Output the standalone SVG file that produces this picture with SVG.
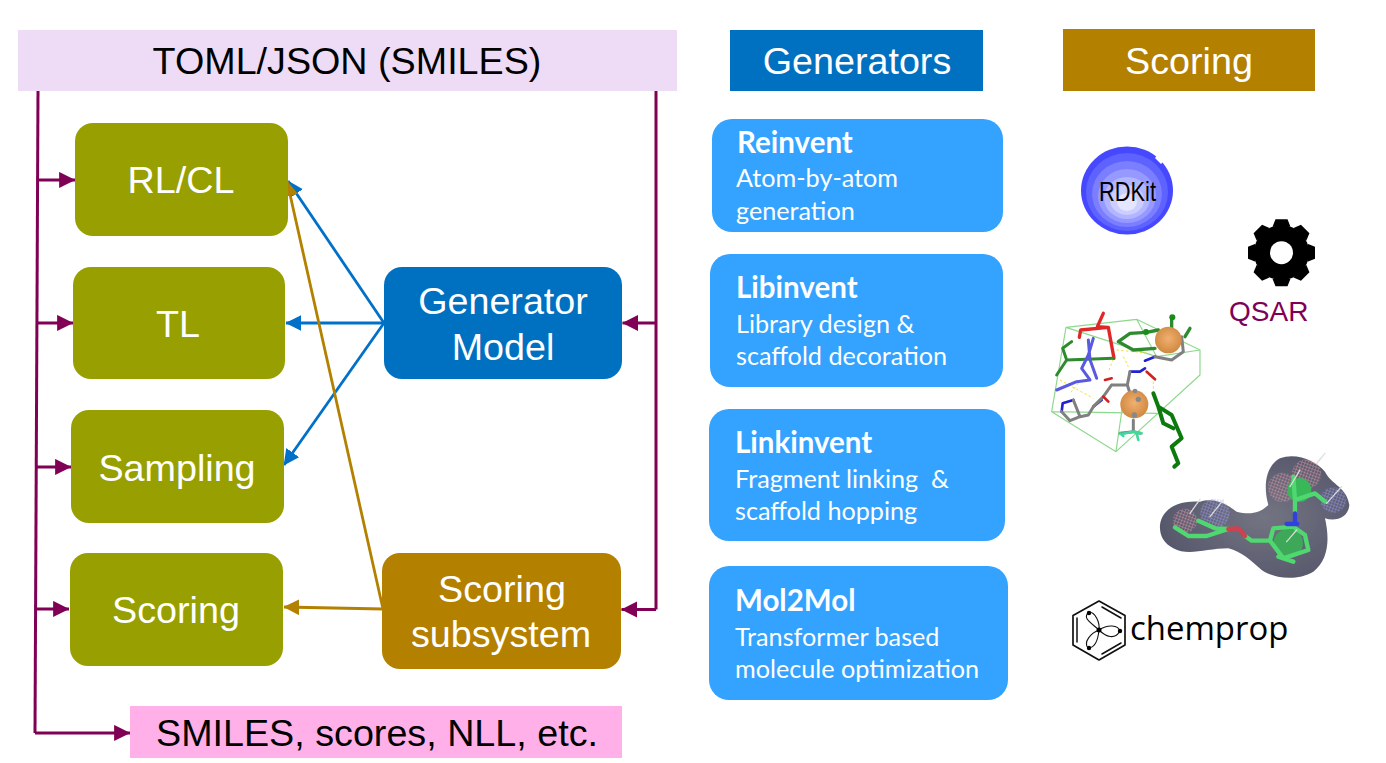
<svg xmlns="http://www.w3.org/2000/svg" width="1386" height="763" viewBox="0 0 1386 763">
<style>
.h{font-family:"Liberation Sans",Arial,sans-serif;font-size:37.700px;text-anchor:middle}
.w{fill:#fff}
.k{fill:#000}
.ol{fill:#97a000}
.gen{fill:#0070c0}
.sc{fill:#b38000}
.card{fill:#33a3ff}
.ct{font-family:Lato,"Open Sans",sans-serif;font-size:25.200px;fill:#fff}
.cb{font-weight:700;font-size:29.500px}
.p{fill:none;stroke:#800055;stroke-width:3}
.b{fill:none;stroke:#0070c8;stroke-width:2.800}
.g{fill:none;stroke:#b38000;stroke-width:2.800}
.st{fill:none;stroke-linecap:round;stroke-linejoin:round}
.hb{stroke:#e8e040;stroke-width:3;stroke-dasharray:7 7;fill:none}
</style>
<defs>
<marker id="ap" markerWidth="6" markerHeight="6" refX="5.300" refY="2.700" orient="auto" markerUnits="strokeWidth"><path d="M0 0L5.400 2.700L0 5.400z" fill="#800055"/></marker>
<marker id="ab" markerWidth="6" markerHeight="6" refX="5.400" refY="2.800" orient="auto" markerUnits="strokeWidth"><path d="M0 0L5.600 2.800L0 5.600z" fill="#0070c8"/></marker>
<marker id="ag" markerWidth="6" markerHeight="6" refX="5.400" refY="2.800" orient="auto" markerUnits="strokeWidth"><path d="M0 0L5.600 2.800L0 5.600z" fill="#b38000"/></marker>
<radialGradient id="sf" cx=".55" cy=".5" r=".6"><stop offset="0" stop-color="#737482"/><stop offset="1" stop-color="#55566a"/></radialGradient>
<radialGradient id="ball" cx=".5" cy=".45" r=".55"><stop offset="0" stop-color="#f0b070"/><stop offset="1" stop-color="#d08840"/></radialGradient>
<pattern id="mr" width="9" height="9" patternUnits="userSpaceOnUse" patternTransform="rotate(20)"><path d="M0 0H9M0 0V9" stroke="#e49aaa" stroke-width="2.400"/></pattern>
<pattern id="mb" width="9" height="9" patternUnits="userSpaceOnUse" patternTransform="rotate(20)"><path d="M0 0H9M0 0V9" stroke="#9a9af4" stroke-width="2.400"/></pattern>
<path id="tooth" d="M-9 -26L-6 -33.500H6L9 -26Z" fill="#000"/>
<filter id="soft" x="-5%" y="-5%" width="110%" height="110%"><feGaussianBlur stdDeviation="1.200"/></filter>
</defs>

<g id="connectors">
<path class="p" d="M38 91L35 733"/>
<path class="p" d="M656 91V609.500"/>
<path class="p" d="M38 180H75" marker-end="url(#ap)"/>
<path class="p" d="M37 323H73" marker-end="url(#ap)"/>
<path class="p" d="M36 467H71" marker-end="url(#ap)"/>
<path class="p" d="M35 609H69" marker-end="url(#ap)"/>
<path class="p" d="M35 733H130" marker-end="url(#ap)"/>
<path class="p" d="M656 323H622.500" marker-end="url(#ap)"/>
<path class="p" d="M656 609.500H621.500" marker-end="url(#ap)"/>
<path class="b" d="M384 323L288 181" marker-end="url(#ab)"/>
<path class="b" d="M384 323H286" marker-end="url(#ab)"/>
<path class="b" d="M384 323L284 465" marker-end="url(#ab)"/>
<path class="g" d="M383 609L287 181" marker-end="url(#ag)"/>
<path class="g" d="M383 609L284 607" marker-end="url(#ag)"/>
</g>

<g id="input"><rect x="18" y="30" width="659" height="61" fill="#eedcf6"/><text class="h k" x="347" y="74">TOML/JSON (SMILES)</text></g>
<g id="generators-header"><rect x="730" y="30" width="253" height="61" class="gen"/><text class="h w" x="857" y="74">Generators</text></g>
<g id="scoring-header"><rect x="1063" y="29" width="252" height="62" class="sc"/><text class="h w" x="1189" y="74">Scoring</text></g>

<g id="rlcl"><rect x="75" y="123" width="213" height="113" rx="18" class="ol"/><text class="h w" x="181" y="193">RL/CL</text></g>
<g id="tl"><rect x="73" y="267" width="212" height="112" rx="18" class="ol"/><text class="h w" x="178" y="337">TL</text></g>
<g id="sampling"><rect x="71" y="410" width="213" height="113" rx="18" class="ol"/><text class="h w" x="177" y="481">Sampling</text></g>
<g id="scoring"><rect x="70" y="553" width="213" height="113" rx="18" class="ol"/><text class="h w" x="176" y="623">Scoring</text></g>
<g id="generator-model"><rect x="384" y="267" width="238" height="112" rx="18" class="gen"/><text class="h w" x="503" y="314">Generator</text><text class="h w" x="503" y="360">Model</text></g>
<g id="scoring-subsystem"><rect x="382" y="553" width="239" height="116" rx="18" class="sc"/><text class="h w" x="502" y="602">Scoring</text><text class="h w" x="501" y="647">subsystem</text></g>
<g id="output"><rect x="130" y="706" width="492" height="52" fill="#ffb0e8"/><text class="h k" x="377" y="746">SMILES, scores, NLL, etc.</text></g>

<g id="reinvent"><rect x="712" y="119" width="291" height="113" rx="20" class="card"/><text class="ct cb" x="737" y="153">Reinvent</text><text class="ct" x="736" y="187">Atom-by-atom</text><text class="ct" x="736" y="220">generation</text></g>
<g id="libinvent"><rect x="710" y="254" width="293" height="133" rx="20" class="card"/><text class="ct cb" x="736" y="298">Libinvent</text><text class="ct" x="736" y="333">Library design &amp;</text><text class="ct" x="736" y="365">scaffold decoration</text></g>
<g id="linkinvent"><rect x="709" y="409" width="296" height="132" rx="20" class="card"/><text class="ct cb" x="735" y="453">Linkinvent</text><text class="ct" x="735" y="488" xml:space="preserve">Fragment linking  &amp;</text><text class="ct" x="735" y="520">scaffold hopping</text></g>
<g id="mol2mol"><rect x="709" y="566" width="299" height="134" rx="20" class="card"/><text class="ct cb" x="735" y="611">Mol2Mol</text><text class="ct" x="735" y="646">Transformer based</text><text class="ct" x="735" y="678">molecule optimization</text></g>

<g id="rdkit">
<ellipse cx="1127" cy="190.500" rx="46" ry="44" fill="#4648ff"/>
<ellipse cx="1127" cy="192" rx="41" ry="39" fill="#5e62ff"/>
<ellipse cx="1127" cy="194" rx="35" ry="33" fill="#7a7eff"/>
<ellipse cx="1127" cy="196" rx="29" ry="27" fill="#9699ff"/>
<ellipse cx="1127" cy="198" rx="23" ry="21" fill="#b2b5ff"/>
<ellipse cx="1127" cy="200" rx="17" ry="15" fill="#ccceff"/>
<ellipse cx="1127" cy="202" rx="10" ry="9" fill="#e4e5ff"/>
<path d="M1158 154l6 7-3 3-6-6z" fill="#fff"/>
<text x="1127.500" y="201" text-anchor="middle" font-family="'Liberation Sans Narrow','Liberation Sans',sans-serif" font-size="28" textLength="57" lengthAdjust="spacingAndGlyphs" fill="#000">RDKit</text>
</g>

<g id="qsar">
<g transform="translate(1281.500 252.700)">
<circle r="27.500" fill="#000"/>
<use href="#tooth"/><use href="#tooth" transform="rotate(45)"/><use href="#tooth" transform="rotate(90)"/><use href="#tooth" transform="rotate(135)"/><use href="#tooth" transform="rotate(180)"/><use href="#tooth" transform="rotate(225)"/><use href="#tooth" transform="rotate(270)"/><use href="#tooth" transform="rotate(315)"/>
<circle r="11.500" fill="#fff"/>
</g>
<text x="1229" y="321" font-family="'Liberation Sans',sans-serif" font-size="28" fill="#800055">QSAR</text>
</g>

<g id="docking" transform="translate(1040 300) scale(.3333)">
<g filter="url(#soft)">
<path class="st" stroke="#8ed88e" stroke-width="3.500" d="M78 82L290 58L480 150L350 170L78 82L35 335L228 455L480 225L480 150M35 335L350 340M228 455L250 300M290 58L350 170"/>
<path class="hb" d="M60 240L160 295M115 250L90 280M230 150L330 160M225 165L205 215M250 170L265 200M340 245V285"/>
<path class="st" stroke="#e02828" stroke-width="10" d="M190 40L172 80L205 82L122 90L118 112M205 82L222 175"/>
<path class="st" stroke="#2f8a2f" stroke-width="10" d="M395 50V90M320 97L270 100L235 125L280 150L345 145M320 97L355 90M450 85L435 110"/>
<path class="st" stroke="#2f8a2f" stroke-width="9" d="M95 125L68 145L80 180L50 225M80 180L220 175"/>
<path class="st" stroke="#5a5ae0" stroke-width="9" d="M160 115L145 165L170 235M145 165L125 205L150 240L110 245L50 270M145 120L150 180"/>
<path class="st" stroke="#0f7a0f" stroke-width="12" d="M340 280L355 320L395 345L425 415L395 440L415 490L403 500M355 320L370 370L400 385"/>
<path class="st" stroke="#2020d0" stroke-width="8" d="M100 300L68 310L65 335M345 170L315 182M270 215L300 215L315 205M185 300L160 320"/>
<path class="st" stroke="#808080" stroke-width="9" d="M65 335L90 362L120 350L145 345L160 320M100 300L120 350M345 170L395 180L430 155L425 110M215 255L262 255L270 215M215 255L190 290L160 320M262 255L270 280M280 360V395M240 400L280 395L300 400"/>
<path class="st" stroke="#d02020" stroke-width="8" d="M215 235L195 240M320 215L345 238M190 290L205 305"/>
<path class="st" stroke="#40d8a0" stroke-width="8" d="M280 395L245 402M280 395L305 400M290 400L295 420M240 400L250 408"/>
<circle cx="385" cy="120" r="40" fill="url(#ball)"/><circle cx="283" cy="313" r="42" fill="url(#ball)"/>
<circle cx="285" cy="273" r="7" fill="#888"/><circle cx="295" cy="298" r="8" fill="#888"/><circle cx="283" cy="345" r="8" fill="#888"/><circle cx="318" cy="96" r="9" fill="#1a8a1a"/><circle cx="397" cy="52" r="9" fill="#1a8a1a"/>
</g>
</g>

<g id="pharmacophore" transform="translate(1060 450) scale(.3333)">
<g filter="url(#soft)">
<path fill="url(#sf)" d="M300 225C305 180 350 150 420 155C470 140 510 170 530 185C570 195 600 190 625 165C610 110 615 50 660 25C710 5 770 35 795 65C815 105 860 110 868 165C865 205 825 215 795 205C810 270 805 330 760 365C710 395 640 385 605 360C570 330 545 305 505 295C440 295 385 320 340 295C310 280 298 255 300 225Z"/>
<circle cx="375" cy="212" r="36" fill="url(#mr)"/><circle cx="465" cy="190" r="44" fill="url(#mb)"/><circle cx="668" cy="112" r="44" fill="url(#mr)"/><circle cx="740" cy="72" r="44" fill="url(#mr)"/><circle cx="820" cy="150" r="38" fill="url(#mb)"/>
<circle cx="718" cy="120" r="36" fill="#38b858"/><circle cx="685" cy="280" r="44" fill="#3ca858"/>
<path class="st" stroke="#50d870" stroke-width="13" d="M345 232L385 258L440 258L505 237M415 212L465 235L505 237M555 258L575 272L630 272L670 325L745 300L735 255L700 230L640 235L630 272M655 320L700 335M705 190V150L765 130L795 155M705 150L700 80"/>
<path class="st" stroke="#d04050" stroke-width="13" d="M505 237L535 235L555 258"/>
<path class="st" stroke="#3040e0" stroke-width="13" d="M705 190V215M680 222H712"/>
<path class="st" stroke="#ddd" stroke-width="4" stroke-dasharray="4 3" d="M390 190L420 148M450 200L490 150M690 110L720 60M770 40L795 10M800 160L845 110M680 275L710 240"/>
</g>
</g>

<g id="chemprop">
<path class="st" stroke="#111" stroke-width="1.700" d="M1099 601L1125 615.500V645L1099 660L1073 645V615.500Z"/>
<path class="st" stroke="#111" stroke-width="1.500" d="M1102 607L1121 618M1077 618V642M1102 654L1121 643"/>
<path class="st" stroke="#111" stroke-width="1.100" d="M1099 630C1090 622 1082 618 1089 612C1095 612 1100 622 1099 630ZM1099 630C1108 624 1118 625 1120 631C1115 640 1106 637 1099 630ZM1099 630C1098 640 1095 648 1088 648C1083 642 1091 633 1099 630Z"/>
<circle cx="1099" cy="630" r="2.500"/><circle cx="1089" cy="613" r="2.200"/><circle cx="1120" cy="631" r="2.200"/><circle cx="1089" cy="648" r="2.200"/>
<text x="1130" y="640" font-family="'Open Sans',sans-serif" font-size="32.900" fill="#000">chemprop</text>
</g>
</svg>
